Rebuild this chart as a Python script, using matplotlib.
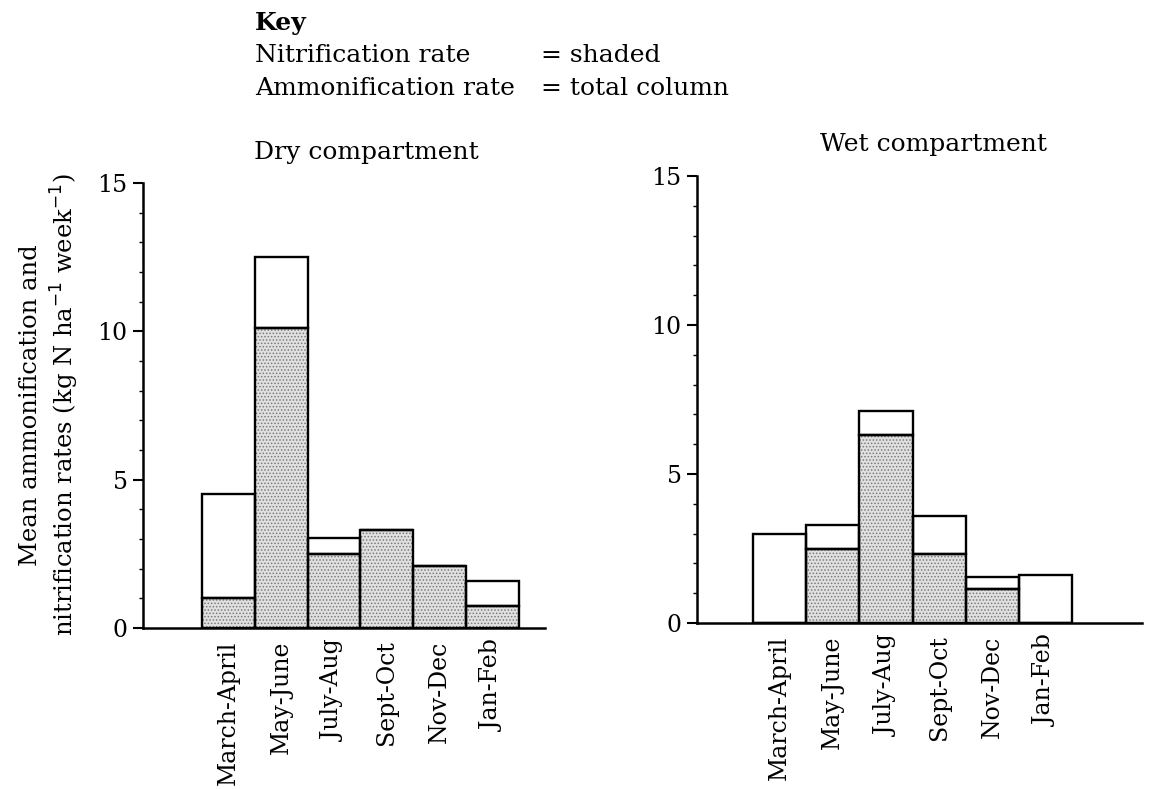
import matplotlib.pyplot as plt
import numpy as np

# Valores
periodos = ['March-April', 'May-June', 'July-Aug', 'Sept-Oct', 'Nov-Dec', 'Jan-Feb']
seco_total = [4.5, 12.5, 3.05, 3.3, 2.1, 1.6]
seco_nitr = [1.0, 10.1, 2.5, 3.3, 2.1, 0.75]
umido_total = [3.0, 3.3, 7.1, 3.6, 1.55, 1.6]
umido_nitr = [0.0, 2.5, 6.3, 2.3, 1.15, 0.0]

plt.rcParams['font.family'] = 'DejaVu Serif'
plt.rcParams['hatch.linewidth'] = 0.7

W, H = 1149, 789
fig = plt.figure(figsize=(W / 100, H / 100), dpi=100)


def painel(px_left, px_right, px_top, px_bottom, xmin, xmax, total, nitr):
    ax = fig.add_axes([px_left / W, 1 - px_bottom / H,
                       (px_right - px_left) / W, (px_bottom - px_top) / H])
    x = np.arange(len(periodos))
    # parte sombreada (nitrificação) com pontilhado
    ax.bar(x, nitr, width=1.0, color='#e0e0e0', edgecolor='#7a7a7a',
           hatch='.....', linewidth=0)
    ax.bar(x, nitr, width=1.0, fill=False, edgecolor='black', linewidth=1.7)
    # coluna total (amonificação)
    ax.bar(x, np.array(total) - np.array(nitr), bottom=nitr, width=1.0,
           fill=False, edgecolor='black', linewidth=1.7)
    ax.set_xlim(xmin, xmax)
    ax.set_ylim(0, 15)
    ax.spines['top'].set_visible(False)
    ax.spines['right'].set_visible(False)
    ax.spines['left'].set_linewidth(1.8)
    ax.spines['bottom'].set_linewidth(1.8)
    ax.set_yticks([0, 5, 10, 15])
    ax.set_yticks(np.arange(0, 16, 1), minor=True)
    ax.tick_params(axis='y', which='major', length=7, width=1.5, labelsize=17, pad=4)
    ax.tick_params(axis='y', which='minor', length=3, width=1.0)
    ax.set_xticks(x)
    ax.set_xticklabels(periodos, rotation=90, fontsize=17)
    ax.tick_params(axis='x', length=0, pad=9)
    return ax


ax1 = painel(143, 545, 183, 628, -1.617, 5.997, seco_total, seco_nitr)
ax2 = painel(697, 1142, 176, 623, -1.553, 6.81, umido_total, umido_nitr)

fig.text(366 / W, 1 - 153 / H, 'Dry compartment', fontsize=18, ha='center', va='center')
fig.text(820 / W, 1 - 145 / H, 'Wet compartment', fontsize=18, ha='left', va='center')

# Legenda (Key)
fig.text(255 / W, 1 - 30 / H, 'Key', fontsize=18, fontweight='bold', va='baseline')
fig.text(255 / W, 1 - 62 / H, 'Nitrification rate', fontsize=18, va='baseline')
fig.text(541 / W, 1 - 62 / H, '= shaded', fontsize=18, va='baseline')
fig.text(255 / W, 1 - 95 / H, 'Ammonification rate', fontsize=18, va='baseline')
fig.text(541 / W, 1 - 95 / H, '= total column', fontsize=18, va='baseline')

fig.text(50 / W, 1 - 405 / H,
         'Mean ammonification and\nnitrification rates (kg N ha$^{-1}$ week$^{-1}$)',
         fontsize=17.5, rotation=90, ha='center', va='center',
         multialignment='center', linespacing=1.3)

fig.savefig('out.png', dpi=100)
